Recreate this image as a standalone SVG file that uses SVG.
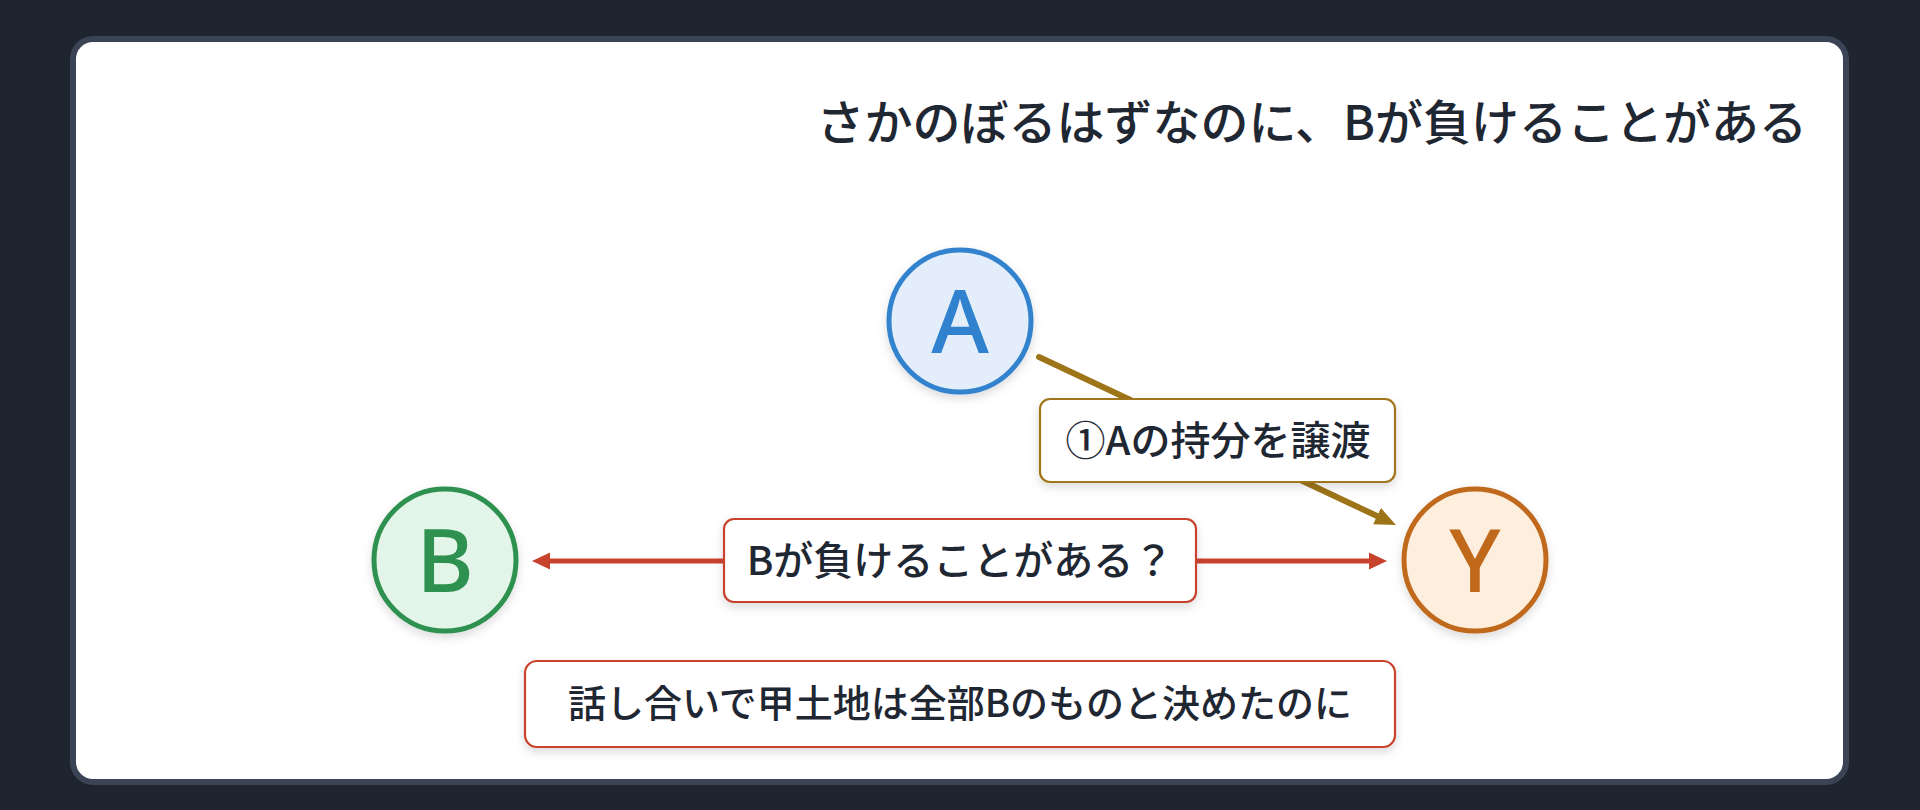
<svg xmlns="http://www.w3.org/2000/svg" width="1920" height="810" viewBox="0 0 1920 810">
<defs>
<style>
.txt{font-family:"Noto Sans CJK JP","Noto Sans",sans-serif;fill:#1f2733;font-weight:500}
.title{font-size:48px}
.lbl{font-size:40px}
.letter{font-family:"Noto Sans","Noto Sans CJK JP",sans-serif;font-size:88px;font-weight:500;text-anchor:middle}
.box{fill:#ffffff;stroke-width:2.2}
.node{stroke-width:5}
</style>
<filter id="sh" x="-20%" y="-20%" width="140%" height="150%">
<feDropShadow dx="0" dy="4" stdDeviation="5" flood-color="#000" flood-opacity="0.14"/>
</filter>
<marker id="arrBrown" markerUnits="userSpaceOnUse" markerWidth="22" markerHeight="22" viewBox="0 -10 22 20" refX="0" refY="0" orient="auto">
<path d="M0,-9 L21,0 L0,9 z" fill="#9e7418"/>
</marker>
<marker id="arrRed" markerUnits="userSpaceOnUse" markerWidth="20" markerHeight="20" viewBox="0 -10 20 20" refX="0" refY="0" orient="auto-start-reverse">
<path d="M0,-8.5 L18,0 L0,8.5 z" fill="#c8432e"/>
</marker>
</defs>
<rect x="0" y="0" width="1920" height="810" fill="#1e2530"/>
<rect x="73" y="39" width="1773" height="743" rx="20" fill="#ffffff" stroke="#3a4454" stroke-width="6"/>
<text class="txt title" x="1807" y="140" text-anchor="end">さかのぼるはずなのに、Bが負けることがある</text>
<g id="connectors">
<line x1="1039" y1="357" x2="1377" y2="516" stroke="#9e7418" stroke-width="6" stroke-linecap="round" marker-end="url(#arrBrown)"/>
<line x1="550" y1="561" x2="1369" y2="561" stroke="#c8432e" stroke-width="5" marker-start="url(#arrRed)" marker-end="url(#arrRed)"/>
<g id="label-transfer">
<rect class="box" x="1040" y="399" width="355" height="83" rx="10" stroke="#a0761a" filter="url(#sh)"/>
<text class="txt lbl" x="1218" y="455" text-anchor="middle">①Aの持分を譲渡</text>
</g>
<g id="label-question">
<rect class="box" x="724" y="519" width="472" height="83" rx="10" stroke="#c8432e" filter="url(#sh)"/>
<text class="txt lbl" x="960" y="575" text-anchor="middle">Bが負けることがある？</text>
</g>
</g>
<g id="node-A">
<circle class="node" cx="960" cy="321" r="71" fill="#e4eefa" stroke="#3182ce" filter="url(#sh)"/>
<text class="letter" x="960" y="353" fill="#3182ce">A</text>
</g>
<g id="node-B">
<circle class="node" cx="445" cy="560" r="71" fill="#e3f5e8" stroke="#2f9150" filter="url(#sh)"/>
<text class="letter" x="445" y="592" fill="#2f9150">B</text>
</g>
<g id="node-Y">
<circle class="node" cx="1475" cy="560" r="71" fill="#fdeede" stroke="#c0691a" filter="url(#sh)"/>
<text class="letter" x="1475" y="592" fill="#c0691a">Y</text>
</g>
<g id="note">
<rect class="box" x="525" y="661" width="870" height="86" rx="12" stroke="#c8432e" filter="url(#sh)"/>
<text class="txt" x="960" y="717" text-anchor="middle" font-size="38">話し合いで甲土地は全部Bのものと決めたのに</text>
</g>
</svg>
